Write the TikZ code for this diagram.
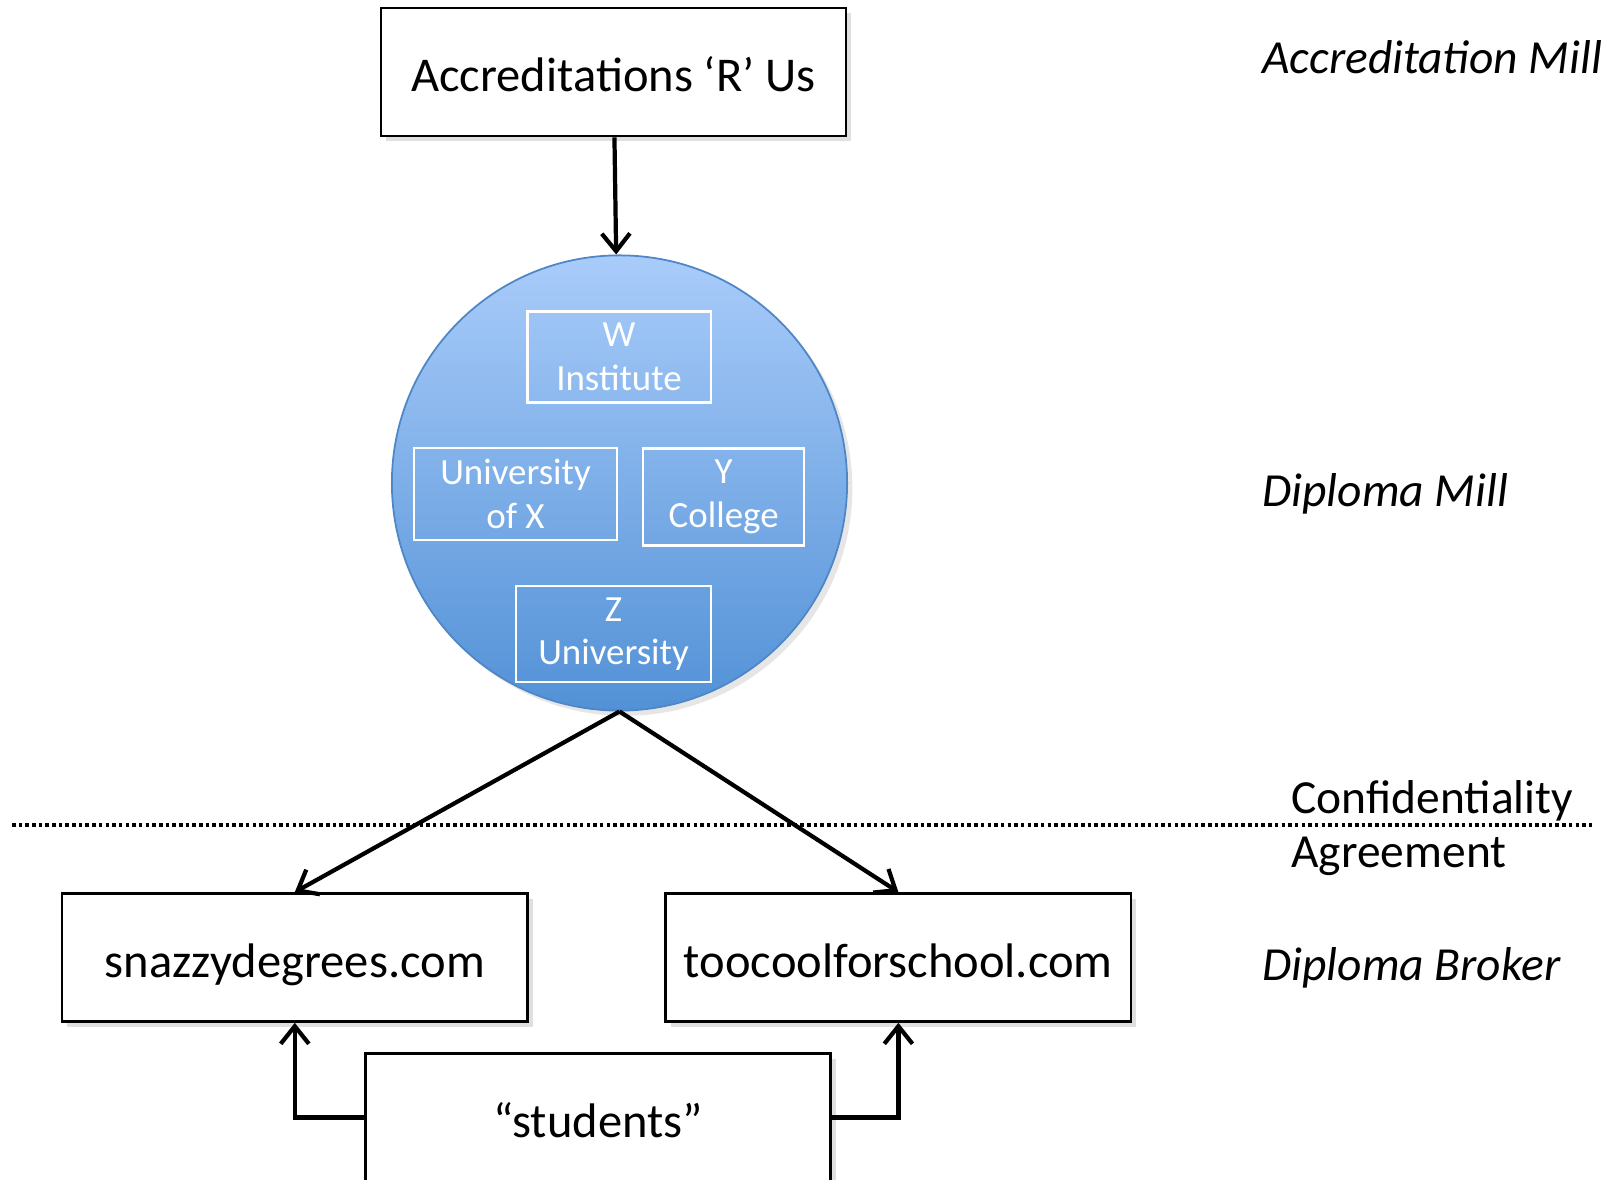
\documentclass[tikz,border=0pt]{standalone}
\usepackage{fontspec}
\setmainfont{Carlito}
\usetikzlibrary{arrows.meta,shadows}
\definecolor{skytop}{HTML}{A9CCFA}
\definecolor{skybot}{HTML}{5291D6}
\definecolor{skyrim}{HTML}{4F86C6}

\tikzset{
    box/.style={draw=black, line width=0.75pt, fill=white, minimum width=4.65cm, minimum height=1.28cm,
        text height=1.22em, text depth=0.1em,
        font=\fontsize{13.8}{16}\selectfont, drop shadow={opacity=0.25, shadow xshift=1.5pt, shadow yshift=-1.5pt}},
    inbox/.style={draw=white, line width=0.6pt, text=white, align=center, minimum height=0.86cm,
        font=\fontsize{10.5}{12.4}\selectfont},
    arr/.style={-{Straight Barb[length=5pt,width=8pt,line width=1.2pt]}, line width=1.2pt},
    side/.style={anchor=west, font=\fontsize{13.5}{15}\selectfont\itshape},
    dotline/.style={line width=1.4pt, dash pattern=on 1pt off 0.9pt}
}

\begin{document}
\begin{tikzpicture}[x=0.01cm, y=-0.01cm]
    \useasboundingbox (0,0) rectangle (1614,1180);

    % top of the chain
    \node[box] (accr) at (613.5,72) {Accreditations ‘R’ Us};

    % the mill and its schools
    \node[circle, minimum size=4.55cm, top color=skytop, bottom color=skybot, draw=skyrim, line width=0.5pt,
        drop shadow={opacity=0.2, shadow xshift=1.5pt, shadow yshift=-1.5pt}] (mill) at (619.5,483) {};
    \node[inbox, minimum width=1.83cm] (winst) at (619,357) {W\\Institute};
    \node[inbox, minimum width=2.02cm] (univx) at (515.5,494) {University\\of X};
    \node[inbox, minimum width=1.61cm] (ycoll) at (723.7,497) {Y\\College};
    \node[inbox, minimum width=1.95cm] (zuniv) at (613.5,634) {Z\\University};

    % brokers and buyers
    \node[box] (snazzy) at (294.8,957.5) {snazzydegrees.com};
    \node[box] (toocool) at (898.4,957.5) {toocoolforschool.com};
    \node[box] (students) at (598,1117.5) {“students”};

    \coordinate (nda-l) at (12,825);
    \coordinate (nda-r) at (1595,825);
    \draw[dotline] (nda-l) -- (nda-r);

    \draw[arr] (accr) -- (mill);
    \draw[arr] (mill.south) -- (snazzy.north);
    \draw[arr] (mill.south) -- (toocool.north);
    \draw[arr] (students.west) -| (snazzy.south);
    \draw[arr] (students.east) -| (toocool.south);

    % labels on the right
    \node[side] (l-accr) at (1250,57) {Accreditation Mill};
    \node[side] (l-mill) at (1250,494) {Diploma Mill};
    \node[side, font=\fontsize{13.5}{15}\selectfont] (l-conf) at (1279,801) {Confidentiality};
    \node[side, font=\fontsize{13.5}{15}\selectfont] (l-agr) at (1279,856) {Agreement};
    \node[side] (l-brok) at (1250,968) {Diploma Broker};
\end{tikzpicture}
\end{document}
